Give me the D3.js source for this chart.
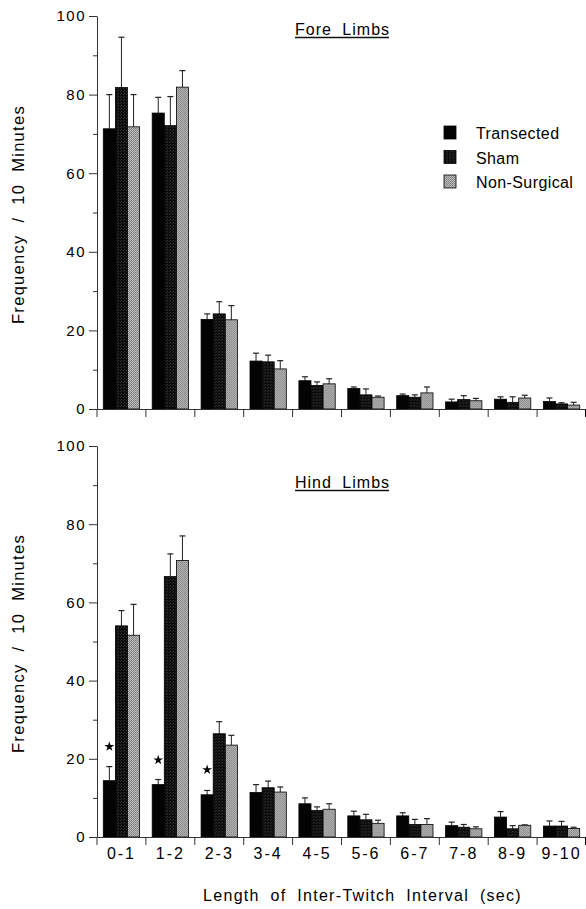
<!DOCTYPE html>
<html>
<head>
<meta charset="utf-8">
<script src="https://cdn.jsdelivr.net/npm/d3@7"></script>
<style>
  body { margin: 0; background: #fff; }
  svg { display: block; font-family: "Liberation Sans", Arial, Helvetica, sans-serif; }
</style>
</head>
<body>
<div id="chart"></div>
<script>
const categories = ['0-1', '1-2', '2-3', '3-4', '4-5', '5-6', '6-7', '7-8', '8-9', '9-10'];
const groups = ['Transected', 'Sham', 'Non-Surgical'];
const yTicks = [0, 20, 40, 60, 80, 100];
const yMinorTicks = [10, 30, 50, 70, 90];

// fore limbs: means and top of error bar
const foreTransected = [71.3, 75.3, 22.8, 12.2, 7.2, 5.2, 3.4, 1.8, 2.5, 1.9];
const foreSham = [81.8, 72.1, 24.2, 12.0, 6.0, 3.6, 3.0, 2.4, 1.7, 1.3];
const foreNonSurgical = [71.8, 81.9, 22.7, 10.2, 6.4, 3.0, 4.1, 2.1, 2.8, 1.0];
const foreTransectedErr = [80.0, 79.3, 24.2, 14.2, 8.2, 5.6, 3.8, 2.5, 3.1, 2.8];
const foreShamErr = [94.6, 79.5, 27.3, 13.7, 6.9, 5.1, 3.6, 3.4, 3.1, 1.6];
const foreNonSurgicalErr = [80.0, 86.1, 26.3, 12.3, 7.7, 3.3, 5.6, 2.7, 3.5, 1.7];

// hind limbs
const hindTransected = [14.4, 13.4, 10.8, 11.4, 8.5, 5.4, 5.4, 2.9, 5.1, 2.8];
const hindSham = [54.0, 66.6, 26.4, 12.6, 6.8, 4.4, 3.2, 2.5, 2.1, 2.8];
const hindNonSurgical = [51.6, 70.7, 23.5, 11.5, 7.1, 3.5, 3.2, 2.1, 3.0, 2.2];
const hindTransectedErr = [18.0, 14.7, 11.9, 13.4, 10.0, 6.6, 6.2, 3.8, 6.5, 4.1];
const hindShamErr = [57.9, 72.4, 29.5, 14.3, 7.7, 5.8, 4.5, 3.2, 2.9, 4.0];
const hindNonSurgicalErr = [59.5, 77.0, 26.0, 12.8, 8.5, 4.3, 4.7, 2.6, 3.1, 2.5];
// significance stars (y position in data units) over transected bars
const hindStars = [23.1, 19.7, 17.2, null, null, null, null, null, null, null];

const width = 586, height = 909;
const left = 97, right = 586;

const svg = d3.select('#chart').append('svg')
  .attr('width', width).attr('height', height);

// stipple textures
const defs = svg.append('defs');
const shamPat = defs.append('pattern').attr('id', 'pat-sham')
  .attr('width', 3).attr('height', 3).attr('patternUnits', 'userSpaceOnUse');
shamPat.append('rect').attr('width', 3).attr('height', 3).attr('fill', '#0c0c0c');
shamPat.append('rect').attr('width', 1).attr('height', 1).attr('fill', '#3a3a3a');
shamPat.append('rect').attr('x', 2).attr('y', 1).attr('width', 1).attr('height', 1).attr('fill', '#2e2e2e');
const nonPat = defs.append('pattern').attr('id', 'pat-non')
  .attr('width', 2).attr('height', 2).attr('patternUnits', 'userSpaceOnUse');
nonPat.append('rect').attr('width', 2).attr('height', 2).attr('fill', '#bdbdbd');
nonPat.append('rect').attr('width', 1).attr('height', 1).attr('fill', '#7c7c7c');
nonPat.append('rect').attr('x', 1).attr('y', 1).attr('width', 1).attr('height', 1).attr('fill', '#8a8a8a');

const fills = ['#030303', 'url(#pat-sham)', 'url(#pat-non)'];

const x0 = d3.scaleBand().domain(categories).range([left, right]).padding(0);
const x1 = d3.scaleBand().domain(groups).range([0, x0.bandwidth()])
  .paddingInner(0).paddingOuter(0.52);

function panel(cfg) {
  const y = d3.scaleLinear().domain([0, 100]).range([cfg.bottom, cfg.top]);
  const g = svg.append('g');

  const rows = categories.map((c, i) => ({
    cat: c,
    vals: cfg.series.map((s, k) => ({ group: groups[k], v: s[i], err: cfg.errs[k][i], k: k }))
  }));

  const grp = g.selectAll('g.cat').data(rows).join('g')
    .attr('class', 'cat')
    .attr('transform', d => `translate(${x0(d.cat)},0)`);

  grp.selectAll('line.err').data(d => d.vals).join('line')
    .attr('class', 'err')
    .attr('x1', d => x1(d.group) + x1.bandwidth() / 2)
    .attr('x2', d => x1(d.group) + x1.bandwidth() / 2)
    .attr('y1', d => y(d.v)).attr('y2', d => y(d.err))
    .attr('stroke', '#222').attr('stroke-width', 1);

  grp.selectAll('line.cap').data(d => d.vals).join('line')
    .attr('class', 'cap')
    .attr('x1', d => x1(d.group) + x1.bandwidth() / 2 - 3)
    .attr('x2', d => x1(d.group) + x1.bandwidth() / 2 + 3)
    .attr('y1', d => y(d.err)).attr('y2', d => y(d.err))
    .attr('stroke', '#222').attr('stroke-width', 1.2);

  grp.selectAll('rect').data(d => d.vals).join('rect')
    .attr('x', d => x1(d.group))
    .attr('width', x1.bandwidth())
    .attr('y', d => y(d.v))
    .attr('height', d => y(0) - y(d.v))
    .attr('fill', d => fills[d.k])
    .attr('stroke', '#000').attr('stroke-width', 0.8);

  if (cfg.stars) {
    const starShape = d3.symbol(d3.symbolStar).size(30);
    g.selectAll('path.star').data(categories.filter((c, i) => cfg.stars[i] != null)).join('path')
      .attr('class', 'star')
      .attr('d', starShape)
      .attr('fill', '#000')
      .attr('transform', c => `translate(${x0(c) + x1('Transected') + x1.bandwidth() / 2},${y(cfg.stars[categories.indexOf(c)])})`);
  }

  // y axis
  const yAxis = g.append('g').attr('transform', `translate(${left},0)`)
    .call(d3.axisLeft(y).tickValues(yTicks).tickSize(8).tickPadding(3).tickSizeOuter(0));
  yAxis.selectAll('text').attr('font-size', 15).attr('letter-spacing', 1.5).attr('fill', '#000');
  g.append('g').attr('transform', `translate(${left},0)`)
    .call(d3.axisLeft(y).tickValues(yMinorTicks).tickSize(4).tickFormat('').tickSizeOuter(0))
    .call(a => a.select('.domain').remove());

  // x axis
  const xAxis = g.append('g').attr('transform', `translate(0,${cfg.bottom})`)
    .call(d3.axisBottom(x0).tickSize(0).tickPadding(11).tickSizeOuter(0)
      .tickFormat(cfg.labels ? (d => d) : ''));
  xAxis.selectAll('text').attr('font-size', 16).attr('letter-spacing', 2).attr('fill', '#000');
  xAxis.selectAll('.tick').append('line')
    .attr('x1', -x0.bandwidth() / 2).attr('x2', -x0.bandwidth() / 2)
    .attr('y1', 0).attr('y2', 8).attr('stroke', 'currentColor');
  xAxis.append('line')
    .attr('x1', right - 0.5).attr('x2', right - 0.5).attr('y1', 0).attr('y2', 8)
    .attr('stroke', 'currentColor');
  g.selectAll('.domain, .tick line').attr('stroke', '#333');

  // y label
  g.append('text')
    .attr('transform', `translate(24,${(cfg.top + cfg.bottom) / 2 + 2}) rotate(-90)`)
    .attr('text-anchor', 'middle')
    .attr('font-size', 16.5).attr('letter-spacing', 1.3).attr('word-spacing', 6)
    .attr('fill', '#000')
    .text('Frequency / 10 Minutes');

  // underlined panel title
  const title = g.append('text')
    .attr('x', 295).attr('y', cfg.titleY)
    .attr('font-size', 16).attr('letter-spacing', 1).attr('word-spacing', 5)
    .attr('fill', '#000')
    .text(cfg.title);
  const tw = title.node().getComputedTextLength();
  g.append('line')
    .attr('x1', 295).attr('x2', 295 + tw - 1)
    .attr('y1', cfg.titleY + 2.5).attr('y2', cfg.titleY + 2.5)
    .attr('stroke', '#111').attr('stroke-width', 1.3);
}

panel({
  top: 16, bottom: 409, title: 'Fore Limbs', titleY: 35, labels: false,
  series: [foreTransected, foreSham, foreNonSurgical],
  errs: [foreTransectedErr, foreShamErr, foreNonSurgicalErr]
});
panel({
  top: 446, bottom: 837, title: 'Hind Limbs', titleY: 488, labels: true,
  series: [hindTransected, hindSham, hindNonSurgical],
  errs: [hindTransectedErr, hindShamErr, hindNonSurgicalErr],
  stars: hindStars
});

// legend
const legend = svg.append('g').attr('transform', 'translate(444,126)');
const li = legend.selectAll('g').data(groups).join('g')
  .attr('transform', (d, i) => `translate(0,${i * 24.5})`);
li.append('rect').attr('width', 12).attr('height', 13)
  .attr('fill', (d, i) => fills[i]).attr('stroke', '#000').attr('stroke-width', 0.8);
li.append('text').attr('x', 32).attr('y', 13)
  .attr('font-size', 16).attr('letter-spacing', 0.4).attr('fill', '#000')
  .text(d => d);

// x title
svg.append('text')
  .attr('x', (202 + 523) / 2).attr('y', 901)
  .attr('text-anchor', 'middle')
  .attr('font-size', 16).attr('letter-spacing', 1.3).attr('word-spacing', 5)
  .attr('fill', '#000')
  .text('Length of Inter-Twitch Interval (sec)');
</script>
</body>
</html>
